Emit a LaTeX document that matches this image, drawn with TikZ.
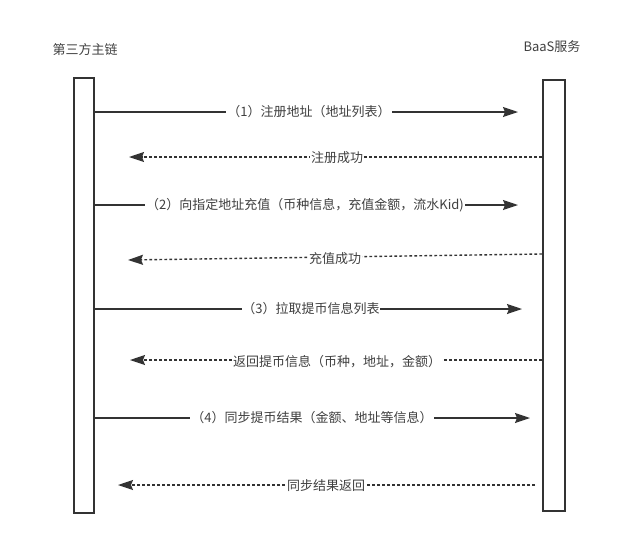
\documentclass[tikz,border=0pt]{standalone}
\usepackage{fontspec}
\setmainfont{Noto Sans CJK SC}
\usetikzlibrary{arrows.meta}
\definecolor{ink}{HTML}{333333}
\definecolor{txt}{HTML}{404040}
\begin{document}
\begin{tikzpicture}[
x=1pt,y=-1pt,
font=\fontsize{13}{15}\selectfont,
life/.style={draw=ink,line width=2pt,inner sep=0pt},
call/.style={-{Stealth[length=15pt,width=10pt,inset=2pt]},draw=ink,line width=1.4pt},
back/.style={call,dash pattern=on 2.6pt off 2.4pt},
msg/.style={fill=white,text=txt,inner sep=1pt}
]
\useasboundingbox (0,0) rectangle (636,539);
\node[life,minimum width=20pt,minimum height=435pt] (chain) at (84,295.5) {};
\node[life,minimum width=22pt,minimum height=431pt] (baas) at (554,295.5) {};
\node[text=txt] (chainname) at (85,50) {第三方主链};
\node[text=txt] (baasname) at (552,47) {BaaS服务};

\coordinate (t1) at (518,112);
\coordinate (t2) at (129,157);
\coordinate (t3) at (518,205);
\coordinate (t4) at (128,260);
\coordinate (t5) at (522,309);
\coordinate (t6) at (130,360);
\coordinate (t7) at (530,418);
\coordinate (t8) at (118,485);
\coordinate (s4) at (baas.west |- 0,254);
\coordinate (s8) at (535,485);

\draw[call] (chain.east |- t1) -- (t1);
\node[msg] (m1) at (309,112) {（1）注册地址（地址列表）};
\draw[back] (baas.west |- t2) -- (t2);
\node[msg] (m2) at (337,158) {注册成功};
\draw[call] (chain.east |- t3) -- (t3);
\node[msg] (m3) at (305,205) {（2）向指定地址充值（币种信息，充值金额，流水Kid)};
\draw[back] (s4) -- (t4);
\node[msg] (m4) at (335,259) {充值成功};
\draw[call] (chain.east |- t5) -- (t5);
\node[msg,inner sep=0pt] (m5) at (311,309) {（3）拉取提币信息列表};
\draw[back] (baas.west |- t6) -- (t6);
\node[msg] (m6) at (337,362) {返回提币信息（币种，地址，金额）\hspace{8pt}};
\draw[call] (chain.east |- t7) -- (t7);
\node[msg] (m7) at (312,418) {（4）同步提币结果（金额、地址等信息）};
\draw[back] (s8) -- (t8);
\node[msg] (m8) at (326,486) {同步结果返回};
\end{tikzpicture}
\end{document}
